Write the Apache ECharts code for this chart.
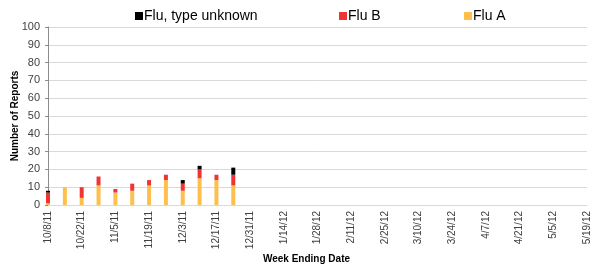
<!DOCTYPE html>
<html>
<head>
<meta charset="utf-8">
<script src="https://cdn.jsdelivr.net/npm/echarts@6/dist/echarts.min.js"></script>
<style>
  html, body { margin: 0; padding: 0; background: #fff; }
  #chart { width: 600px; height: 270px; }
</style>
</head>
<body>
<div id="chart"></div>
<script>
'use strict';

// week ending dates
var weeks = ['10/8/11', '10/15/11', '10/22/11', '10/29/11', '11/5/11', '11/12/11', '11/19/11',
  '11/26/11', '12/3/11', '12/10/11', '12/17/11', '12/24/11', '12/31/11', '1/7/12', '1/14/12',
  '1/21/12', '1/28/12', '2/4/12', '2/11/12', '2/18/12', '2/25/12', '3/3/12', '3/10/12',
  '3/17/12', '3/24/12', '3/31/12', '4/7/12', '4/14/12', '4/21/12', '4/28/12', '5/5/12',
  '5/12/12', '5/19/12'];

var fluA = [1, 10, 4, 11, 7, 8, 11, 14, 8, 15, 14, 11];
var fluB = [6, 0, 6, 5, 2, 4, 3, 3, 4, 5, 3, 6];
var fluUnknown = [1, 0, 0, 0, 0, 0, 0, 0, 2, 2, 0, 4];

var yTicks = [0, 10, 20, 30, 40, 50, 60, 70, 80, 90, 100];

var FONT = 'Liberation Sans, Arial, sans-serif';

var myChart = echarts.init(document.getElementById('chart'));

function legendAt(name, left) {
  return {
    data: [name],
    left: left,
    top: 4,
    itemWidth: 8,
    itemHeight: 8,
    itemGap: 0,
    icon: 'rect',
    textStyle: { fontFamily: FONT, fontSize: 14, color: '#000', padding: [0, 0, 0, -4] }
  };
}

var option = {
  animation: false,
  textStyle: { fontFamily: FONT },
  legend: [
    legendAt('Flu, type unknown', 130),
    legendAt('Flu B', 334),
    legendAt('Flu A', 459)
  ],
  grid: { left: 48, right: 13, top: 27, bottom: 65, containLabel: false, outerBoundsMode: 'none' },
  xAxis: {
    type: 'category',
    data: weeks,
    boundaryGap: false,
    name: 'Week Ending Date',
    nameLocation: 'middle',
    nameGap: 49,
    nameMoveOverlap: false,
    nameTextStyle: { fontFamily: FONT, fontSize: 10, fontWeight: 'bold', color: '#000', padding: [0, 22, 0, 0] },
    axisLine: { lineStyle: { color: '#d9d9d9', width: 1 } },
    axisTick: { show: false },
    axisLabel: {
      interval: 1,
      rotate: 90,
      fontSize: 10,
      color: '#404040',
      margin: 6
    }
  },
  yAxis: {
    type: 'value',
    min: yTicks[0],
    max: yTicks[yTicks.length - 1],
    interval: 10,
    name: 'Number of Reports',
    nameLocation: 'middle',
    nameGap: 28,
    nameMoveOverlap: false,
    nameTextStyle: { fontFamily: FONT, fontSize: 10, fontWeight: 'bold', color: '#000' },
    axisLine: { show: true, lineStyle: { color: '#8c8c8c', width: 1 } },
    axisTick: { show: true, length: 3, lineStyle: { color: '#8c8c8c' } },
    axisLabel: { fontSize: 11, color: '#404040', margin: 8 },
    splitLine: { lineStyle: { color: '#d9d9d9', width: 1 } }
  },
  series: [{
    name: 'Flu A',
    type: 'bar',
    stack: 'flu',
    barWidth: 4,
    itemStyle: { color: '#ffbf4d' },
    data: fluA
  }, {
    name: 'Flu B',
    type: 'bar',
    stack: 'flu',
    barWidth: 4,
    itemStyle: { color: '#f03434' },
    data: fluB
  }, {
    name: 'Flu, type unknown',
    type: 'bar',
    stack: 'flu',
    barWidth: 4,
    itemStyle: { color: '#000000' },
    data: fluUnknown
  }]
};

myChart.setOption(option);
</script>
</body>
</html>
